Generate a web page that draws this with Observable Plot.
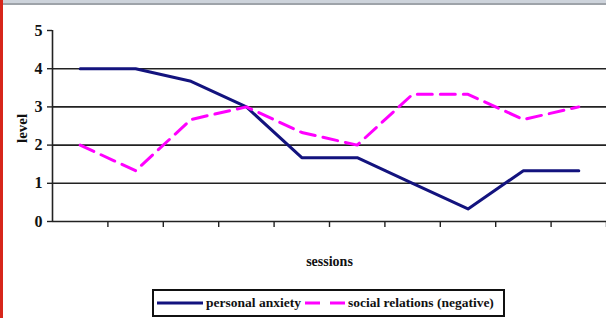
<!DOCTYPE html>
<html>
<head>
<meta charset="utf-8">
<script src="https://cdn.jsdelivr.net/npm/d3@7"></script>
<script src="https://cdn.jsdelivr.net/npm/@observablehq/plot@0.6"></script>
<style>
  html, body { margin: 0; padding: 0; background: #fff; }
  body { width: 603px; height: 318px; border-left: 3px solid #d7261b; overflow: hidden; font-family: "Liberation Serif", "DejaVu Serif", serif; }
  #topbar { height: 3px; background: #cdd3db; border-bottom: 2px solid #9ea3a9; }
  #chart svg { display: block; }
  #legend { margin-left: 149px; margin-top: 9px; width: 349px; height: 24px; border: 2px solid #111; display: flex; align-items: center; font-weight: bold; font-size: 13.5px; color: #111; white-space: nowrap; }
  #legend svg { display: block; }
</style>
</head>
<body>
<div id="topbar"></div>
<div id="chart"></div>
<div id="legend"></div>
<script>
const sessions = [1, 2, 3, 4, 5, 6, 7, 8, 9, 10];
const personalAnxiety = [4, 4, 3.67, 3, 1.67, 1.67, 1, 0.33, 1.33, 1.33];
const socialRelations = [2, 1.33, 2.67, 3, 2.33, 2, 3.33, 3.33, 2.67, 3];
const yTicks = [0, 1, 2, 3, 4, 5];
const gridValues = [1, 2, 3, 4];
const seriesNames = ["personal anxiety", "social relations (negative)"];
const seriesColors = ["#13137e", "#ff00ff"];

const anxietyData = sessions.map((s, i) => ({session: s, value: personalAnxiety[i]}));
const socialData = sessions.map((s, i) => ({session: s, value: socialRelations[i]}));
const boundaries = sessions.map(s => s + 0.5);

const font = "Liberation Serif";
const chart = Plot.plot({
  width: 603,
  height: 275,
  marginLeft: 49,
  marginRight: 0,
  marginTop: 25,
  marginBottom: 59,
  style: {fontFamily: font, background: "#fff", overflow: "visible"},
  x: {domain: [0.5, 10.5], axis: null},
  y: {domain: [0, 5], axis: null},
  marks: [
    Plot.ruleY(gridValues, {x1: 0.5, x2: 10.5, stroke: "#222", strokeWidth: 1.6}),
    Plot.ruleY([0], {x1: 0.5, x2: 10.5, stroke: "#222", strokeWidth: 1.6}),
    Plot.ruleX([0.5], {y1: 0, y2: 5, stroke: "#222", strokeWidth: 1.6}),
    Plot.axisY({ticks: yTicks, tickSize: 5, tickPadding: 5, fontSize: 16, fontWeight: "bold", stroke: "#222", strokeWidth: 1.4, tickFormat: d => String(d), fill: "#111", label: null}),
    Plot.axisX({ticks: boundaries, tickSize: 6, tickFormat: () => "", stroke: "#222", strokeWidth: 1.4, label: null}),
    Plot.line(anxietyData, {x: "session", y: "value", stroke: seriesColors[0], strokeWidth: 3}),
    Plot.line(socialData, {x: "session", y: "value", stroke: seriesColors[1], strokeWidth: 3, strokeDasharray: "15,8"}),
    Plot.text(["sessions"], {frameAnchor: "bottom", dy: 44, fontSize: 14, fontWeight: "bold", fill: "#111"}),
    Plot.text(["level"], {frameAnchor: "left", dx: -30, dy: 17, rotate: -90, fontSize: 15, fontWeight: "bold", fill: "#111"})
  ]
});
document.getElementById("chart").appendChild(chart);

const legend = document.getElementById("legend");
const items = [
  {name: seriesNames[0], color: seriesColors[0], dash: null, w: 46, ml: 3},
  {name: seriesNames[1], color: seriesColors[1], dash: "15,10", w: 40, ml: 4}
];
items.forEach((it, i) => {
  const ns = "http://www.w3.org/2000/svg";
  const s = document.createElementNS(ns, "svg");
  s.setAttribute("width", it.w);
  s.setAttribute("height", 10);
  s.style.marginLeft = it.ml + "px";
  s.style.marginRight = "3px";
  const l = document.createElementNS(ns, "line");
  l.setAttribute("x1", 0); l.setAttribute("x2", it.w);
  l.setAttribute("y1", 5); l.setAttribute("y2", 5);
  l.setAttribute("stroke", it.color);
  l.setAttribute("stroke-width", 3);
  if (it.dash) l.setAttribute("stroke-dasharray", it.dash);
  s.appendChild(l);
  legend.appendChild(s);
  const t = document.createElement("span");
  t.textContent = it.name;
  legend.appendChild(t);
});
</script>
</body>
</html>
